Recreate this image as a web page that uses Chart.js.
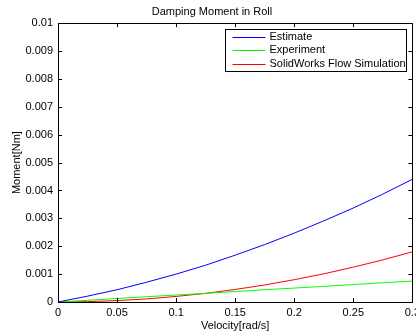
<!DOCTYPE html>
<html>
<head>
<meta charset="utf-8">
<script src="https://cdn.jsdelivr.net/npm/chart.js@4"></script>
<style>
  html, body { margin: 0; padding: 0; background: #fff; overflow: hidden; }
  #wrap { width: 424px; height: 336px; }
</style>
</head>
<body>
<div id="wrap"><canvas id="rollChart"></canvas></div>
<script>
const velocity = [0, 0.025, 0.05, 0.075, 0.1, 0.125, 0.15, 0.175, 0.2, 0.225, 0.25, 0.275, 0.3];
const estimate = [0, 0.00021, 0.00044, 0.00071, 0.001, 0.00132, 0.00168, 0.00206, 0.00247, 0.00291, 0.00337, 0.00387, 0.0044];
const experiment = [0, 0.00006, 0.000125, 0.00019, 0.00025, 0.00031, 0.000375, 0.00044, 0.0005, 0.00056, 0.000625, 0.00069, 0.00075];
const simulation = [0, 0.000013, 0.00005, 0.00011, 0.0002, 0.00031, 0.00045, 0.00061, 0.0008, 0.00101, 0.00125, 0.00151, 0.0018];
const xTicks = [0, 0.05, 0.1, 0.15, 0.2, 0.25, 0.3];

const font = "'Liberation Sans', Arial, sans-serif";

function pts(ys) {
    return velocity.map((v, i) => ({ x: v, y: ys[i] }));
}

// box round the plot, inward ticks on all four sides, and the boxed legend
const matlabBox = {
    id: "matlabBox",
    afterDraw(chart) {
        const c = chart.ctx;
        const a = chart.chartArea;
        const xs = chart.scales.x;
        const ys = chart.scales.y;
        const len = 4;
        c.save();
        c.strokeStyle = "#000";
        c.lineWidth = 1;
        c.beginPath();
        xs.ticks.forEach(t => {
            const px = Math.round(xs.getPixelForValue(t.value)) + 0.5;
            c.moveTo(px, a.bottom); c.lineTo(px, a.bottom - len);
            c.moveTo(px, a.top); c.lineTo(px, a.top + len);
        });
        ys.ticks.forEach(t => {
            const py = Math.round(ys.getPixelForValue(t.value)) + 0.5;
            c.moveTo(a.left, py); c.lineTo(a.left + len, py);
            c.moveTo(a.right, py); c.lineTo(a.right - len, py);
        });
        c.stroke();
        c.strokeRect(Math.round(a.left) + 0.5, Math.round(a.top) + 0.5,
            Math.round(a.right - a.left), Math.round(a.bottom - a.top));

        // legend
        const lx = 225.5, ly = 29.5, lw = 181, lh = 42;
        c.fillStyle = "#fff";
        c.fillRect(lx, ly, lw, lh);
        c.strokeRect(lx, ly, lw, lh);
        c.font = "11px " + font;
        c.textBaseline = "middle";
        chart.data.datasets.forEach((ds, i) => {
            const y = ly + 7 + i * 13.5;
            c.strokeStyle = ds.borderColor;
            c.beginPath();
            c.moveTo(lx + 7, Math.round(y) + 0.5);
            c.lineTo(lx + 40, Math.round(y) + 0.5);
            c.stroke();
            c.fillStyle = "#000";
            c.fillText(ds.label, lx + 44, y);
        });
        c.restore();
    }
};

new Chart(document.getElementById("rollChart"), {
    type: "line",
    data: {
        datasets: [
            { label: "Estimate", data: pts(estimate), borderColor: "#0000ff" },
            { label: "Experiment", data: pts(experiment), borderColor: "#00ff00" },
            { label: "SolidWorks Flow Simulation", data: pts(simulation), borderColor: "#ff0000" },
        ],
    },
    options: {
        responsive: true,
        maintainAspectRatio: false,
        animation: false,
        layout: { padding: 0 },
        elements: {
            line: { borderWidth: 1, tension: 0 },
            point: { radius: 0 },
        },
        plugins: {
            legend: { display: false },
            tooltip: { enabled: false },
            title: {
                display: true,
                text: "Damping Moment in Roll",
                color: "#000",
                font: { family: font, size: 11, weight: "normal" },
                padding: { top: 5, bottom: 5 },
            },
        },
        scales: {
            x: {
                type: "linear",
                min: 0,
                max: 0.3,
                afterBuildTicks: s => { s.ticks = xTicks.map(v => ({ value: v })); },
                afterFit: s => { s.height = 34; },
                grid: { display: false, drawTicks: false },
                border: { display: false },
                ticks: {
                    color: "#000",
                    font: { family: font, size: 11 },
                    padding: 4,
                    maxRotation: 0,
                    autoSkip: false,
                    callback: v => String(v),
                },
                title: {
                    display: true,
                    text: "Velocity[rad/s]",
                    color: "#000",
                    font: { family: font, size: 11 },
                    padding: { top: 0, bottom: 3 },
                },
            },
            y: {
                min: 0,
                max: 0.01,
                afterFit: s => { s.width = 58; },
                grid: { display: false, drawTicks: false },
                border: { display: false },
                ticks: {
                    stepSize: 0.001,
                    color: "#000",
                    font: { family: font, size: 11 },
                    padding: 5,
                    callback: v => String(Math.round(v * 1000) / 1000),
                },
                title: {
                    display: true,
                    text: "Moment[Nm]",
                    color: "#000",
                    font: { family: font, size: 11 },
                    padding: { top: 10, bottom: 0 },
                },
            },
        },
    },
    plugins: [matlabBox],
});
</script>
</body>
</html>
